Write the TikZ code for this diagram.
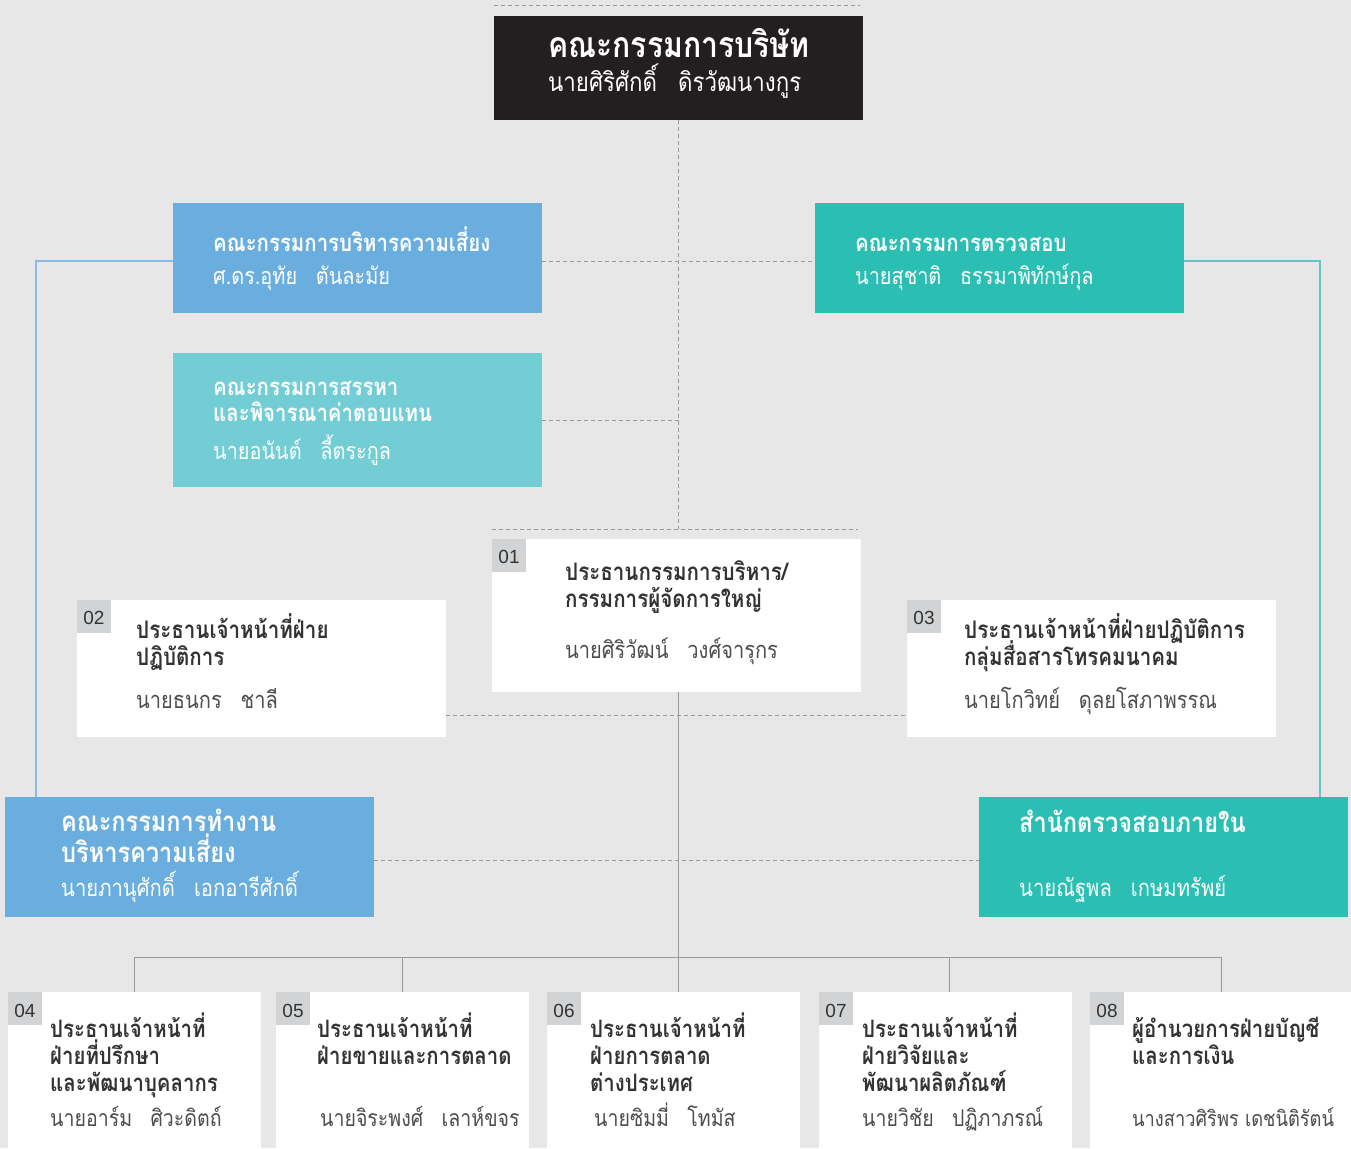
\documentclass[tikz,border=0pt]{standalone}
\usepackage{fontspec}
\setmainfont[Script=Thai, FakeStretch=0.85]{Loma}
\newfontfamily\numfont{Liberation Sans}
\usetikzlibrary{calc}
\definecolor{bg}{HTML}{E6E7E6}
\definecolor{boardc}{HTML}{231F20}
\definecolor{bluec}{HTML}{6AAEDF}
\definecolor{tealc}{HTML}{2BBFB3}
\definecolor{ltealc}{HTML}{72CDD4}
\definecolor{tabc}{HTML}{D1D3D4}
\definecolor{headc}{HTML}{333333}
\definecolor{namec}{HTML}{4D4D4D}
\definecolor{linec}{HTML}{9A9A9A}
\definecolor{bluel}{HTML}{86BDE6}
\definecolor{teall}{HTML}{5CC8C8}
\tikzset{
  box/.style={anchor=north west, inner sep=0pt, outer sep=0pt, draw=none},
  tab/.style={anchor=north west, inner sep=0pt, outer sep=0pt, fill=tabc, minimum width=34pt, minimum height=33pt},
  tabtxt/.style={anchor=base, inner sep=0pt, text=headc, font=\numfont\fontsize{19}{19}\selectfont},
  txt/.style={anchor=base west, inner sep=0pt},
  bigtitle/.style={txt, text=white, font=\bfseries\fontsize{35.5}{35.5}\selectfont},
  bigname/.style={txt, text=white, font=\fontsize{26.2}{26.2}\selectfont},
  chead/.style={txt, text=white, font=\bfseries\fontsize{24}{24}\selectfont},
  cname/.style={txt, text=white, font=\fontsize{23.4}{23.4}\selectfont},
  rhead/.style={txt, text=white, font=\bfseries\fontsize{27.7}{27.7}\selectfont},
  rname/.style={txt, text=white, font=\fontsize{23.8}{23.8}\selectfont},
  whead/.style={txt, text=headc, font=\bfseries\fontsize{24.2}{24.2}\selectfont},
  wname/.style={txt, text=namec, font=\fontsize{23.6}{23.6}\selectfont},
  bhead/.style={txt, text=headc, font=\bfseries\fontsize{24}{24}\selectfont},
  bname/.style={txt, text=namec, font=\fontsize{23}{23}\selectfont},
  dashline/.style={draw=linec, line width=0.9pt, dash pattern=on 4pt off 3pt},
  solidline/.style={draw=linec, line width=1pt},
}
\newcommand{\gap}{\hspace{0.8em}}
\begin{document}
\begin{tikzpicture}[x=1pt,y=-1pt]
\fill[bg] (0,0) rectangle (1351,1148);
\useasboundingbox (0,0) rectangle (1351,1148);

% boxes
\node[box, fill=boardc, minimum width=369pt, minimum height=104pt] (board) at (494,16) {};
\node[box, fill=bluec, minimum width=369pt, minimum height=110pt] (risk) at (173,203) {};
\node[box, fill=tealc, minimum width=369pt, minimum height=110pt] (audit) at (815,203) {};
\node[box, fill=ltealc, minimum width=369pt, minimum height=134pt] (nom) at (173,353) {};
\node[box, fill=white, minimum width=369pt, minimum height=153pt] (ceo) at (492,539) {};
\node[box, fill=white, minimum width=369pt, minimum height=137pt] (coo) at (77,600) {};
\node[box, fill=white, minimum width=369pt, minimum height=137pt] (cto) at (907,600) {};
\node[box, fill=bluec, minimum width=369pt, minimum height=120pt] (rw) at (5,797) {};
\node[box, fill=tealc, minimum width=369pt, minimum height=120pt] (ia) at (979,797) {};
\node[box, fill=white, minimum width=253pt, minimum height=160pt] (b4) at (8,992) {};
\node[box, fill=white, minimum width=253pt, minimum height=160pt] (b5) at (276,992) {};
\node[box, fill=white, minimum width=253pt, minimum height=160pt] (b6) at (547,992) {};
\node[box, fill=white, minimum width=253pt, minimum height=160pt] (b7) at (819,992) {};
\node[box, fill=white, minimum width=261pt, minimum height=160pt] (b8) at (1090,992) {};

% tabs
\node[tab] (tab1) at (ceo.north west) {};
\node[tab] (tab2) at (coo.north west) {};
\node[tab] (tab3) at (cto.north west) {};
\node[tab] (tab4) at (b4.north west) {};
\node[tab] (tab5) at (b5.north west) {};
\node[tab] (tab6) at (b6.north west) {};
\node[tab] (tab7) at (b7.north west) {};
\node[tab] (tab8) at (b8.north west) {};
\node[tabtxt] (n1) at ($(tab1.north)+(0,24)$) {01};
\node[tabtxt] (n2) at ($(tab2.north)+(0,24)$) {02};
\node[tabtxt] (n3) at ($(tab3.north)+(0,24)$) {03};
\node[tabtxt] (n4) at ($(tab4.north)+(0,25)$) {04};
\node[tabtxt] (n5) at ($(tab5.north)+(0,25)$) {05};
\node[tabtxt] (n6) at ($(tab6.north)+(0,25)$) {06};
\node[tabtxt] (n7) at ($(tab7.north)+(0,25)$) {07};
\node[tabtxt] (n8) at ($(tab8.north)+(0,25)$) {08};

% connectors
\coordinate (topdL) at ($(board.north west)+(0,-11)$);
\coordinate (topdR) at ($(board.north east)+(-3,-11)$);
\draw[dashline] (topdL) -- (topdR);
\coordinate (ceodL) at ($(ceo.north west)+(0,-10)$);
\coordinate (ceodR) at ($(ceo.north east)+(-3,-10)$);
\draw[dashline] (ceodL) -- (ceodR);
\coordinate (spine) at (board.south |- ceodL);
\draw[dashline] (board.south) -- (spine);
\draw[dashline] ($(risk.north east)+(0,58)$) -- ($(audit.north west)+(0,58)$);
\coordinate (nomj) at (board.south |- nom.east);
\draw[dashline] (nom.east) -- (nomj);
\draw[dashline] ($(coo.south east)+(0,-22)$) -- ($(cto.south west)+(0,-22)$);
\draw[dashline] ($(rw.north east)+(0,63)$) -- ($(ia.north west)+(0,63)$);
\coordinate (rwtop) at ($(rw.north west)+(31,0)$);
\coordinate (iatop) at ($(ia.north east)+(-28,0)$);
\draw[bluel, line width=1.3pt] ($(risk.north west)+(0,58)$) -| (rwtop);
\draw[teall, line width=1.3pt] ($(audit.north east)+(0,58)$) -| (iatop);
\coordinate (bus) at (678.5,957);
\draw[solidline] (ceo.south -| bus) -- (bus);
\coordinate (busL) at (134,957);
\coordinate (busR) at (1221,957);
\coordinate (bus5) at (402,957);
\coordinate (bus7) at (949,957);
\draw[solidline] (busL) -- (busR);
\draw[solidline] (busL) -- (busL |- b4.north);
\draw[solidline] (bus5) -- (bus5 |- b5.north);
\draw[solidline] (bus) -- (bus |- b6.north);
\draw[solidline] (bus7) -- (bus7 |- b7.north);
\draw[solidline] (busR) -- (busR |- b8.north);

% texts
\node[bigtitle] (t0a) at (548,58) {คณะกรรมการบริษัท};
\node[bigname] (t0b) at (548,92) {นายศิริศักดิ์\gap ดิรวัฒนางกูร};

\node[chead] (tra) at (213,251) {คณะกรรมการบริหารความเสี่ยง};
\node[cname] (trb) at (213,284) {ศ.ดร.อุทัย\gap ตันละมัย};

\node[chead] (tna) at (213,395) {คณะกรรมการสรรหา};
\node[chead] (tnb) at (213,421) {และพิจารณาค่าตอบแทน};
\node[cname] (tnc) at (213,459) {นายอนันต์\gap ลี้ตระกูล};

\node[chead] (taa) at (855,251) {คณะกรรมการตรวจสอบ};
\node[cname] (tab) at (855,284) {นายสุชาติ\gap ธรรมาพิทักษ์กุล};

\node[whead] (t1a) at (565,580) {ประธานกรรมการบริหาร/};
\node[whead] (t1b) at (565,607) {กรรมการผู้จัดการใหญ่};
\node[wname] (t1c) at (565,658) {นายศิริวัฒน์\gap วงศ์จารุกร};

\node[whead] (t2a) at (136,638) {ประธานเจ้าหน้าที่ฝ่าย};
\node[whead] (t2b) at (136,665) {ปฏิบัติการ};
\node[wname] (t2c) at (136,708) {นายธนกร\gap ชาลี};

\node[whead] (t3a) at (964,638) {ประธานเจ้าหน้าที่ฝ่ายปฏิบัติการ};
\node[whead] (t3b) at (964,665) {กลุ่มสื่อสารโทรคมนาคม};
\node[wname] (t3c) at (964,708) {นายโกวิทย์\gap ดุลยโสภาพรรณ};

\node[rhead] (twa) at (61,831) {คณะกรรมการทำงาน};
\node[rhead] (twb) at (61,862) {บริหารความเสี่ยง};
\node[rname] (twc) at (61,896) {นายภานุศักดิ์\gap เอกอารีศักดิ์};

\node[rhead] (tia) at (1019,832) {สำนักตรวจสอบภายใน};
\node[rname] (tib) at (1019,896) {นายณัฐพล\gap เกษมทรัพย์};

\node[bhead] (t4a) at (50,1037) {ประธานเจ้าหน้าที่};
\node[bhead] (t4b) at (50,1064) {ฝ่ายที่ปรึกษา};
\node[bhead] (t4c) at (50,1091) {และพัฒนาบุคลากร};
\node[bname] (t4d) at (50,1126) {นายอาร์ม\gap ศิวะดิตถ์};

\node[bhead] (t5a) at (317,1037) {ประธานเจ้าหน้าที่};
\node[bhead] (t5b) at (317,1064) {ฝ่ายขายและการตลาด};
\node[bname] (t5d) at (320,1126) {นายจิระพงศ์\gap เลาห์ขจร};

\node[bhead] (t6a) at (590,1037) {ประธานเจ้าหน้าที่};
\node[bhead] (t6b) at (590,1064) {ฝ่ายการตลาด};
\node[bhead] (t6c) at (590,1091) {ต่างประเทศ};
\node[bname] (t6d) at (594,1126) {นายซิมมี่\gap โทมัส};

\node[bhead] (t7a) at (862,1037) {ประธานเจ้าหน้าที่};
\node[bhead] (t7b) at (862,1064) {ฝ่ายวิจัยและ};
\node[bhead] (t7c) at (862,1091) {พัฒนาผลิตภัณฑ์};
\node[bname] (t7d) at (862,1126) {นายวิชัย\gap ปฏิภาภรณ์};

\node[bhead] (t8a) at (1132,1037) {ผู้อำนวยการฝ่ายบัญชี};
\node[bhead] (t8b) at (1132,1064) {และการเงิน};
\node[bname, font=\fontsize{21.5}{21.5}\selectfont] (t8d) at (1132,1126) {นางสาวศิริพร เดชนิติรัตน์};
\end{tikzpicture}
\end{document}
